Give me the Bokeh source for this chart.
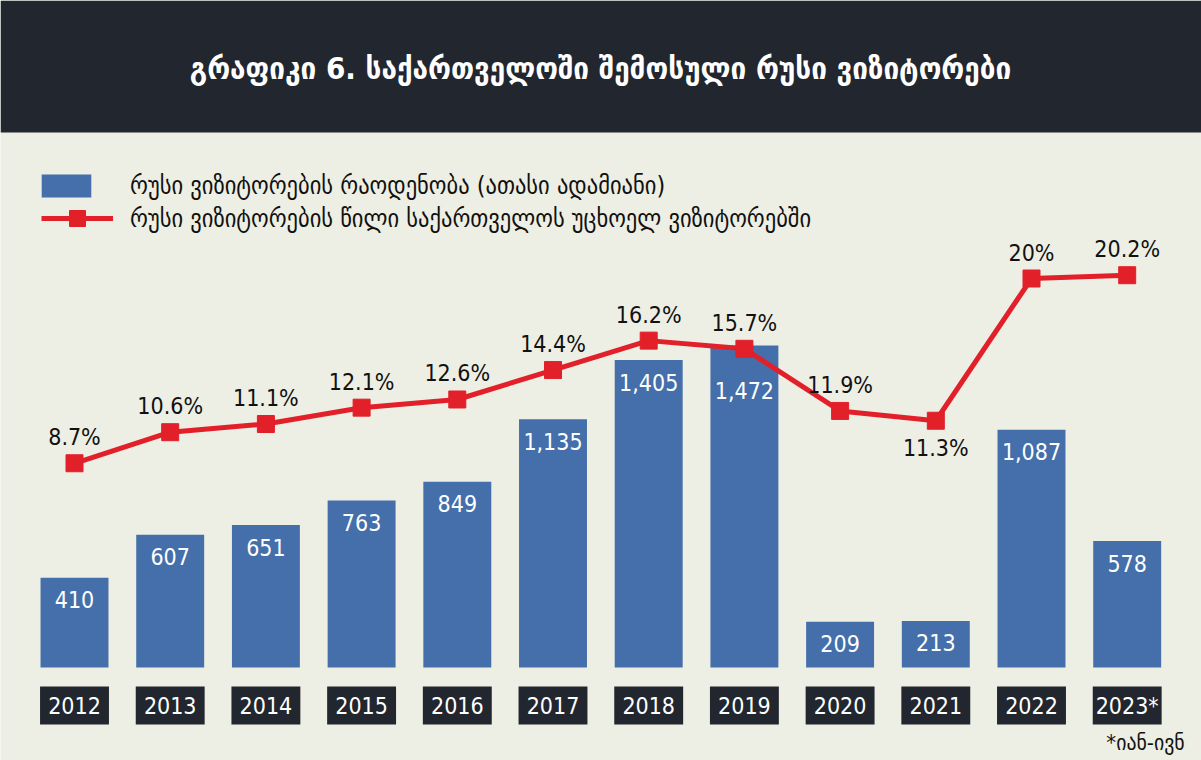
from bokeh.plotting import figure
from bokeh.models import (ColumnDataSource, Range1d, BoxAnnotation,
                          Label, Legend, LegendItem)
from bokeh.core.properties import value
from bokeh.embed import file_html
from bokeh.resources import INLINE

# ---------------- data ----------------
years = ["2012", "2013", "2014", "2015", "2016", "2017", "2018", "2019",
         "2020", "2021", "2022", "2023*"]
visitors = [410, 607, 651, 763, 849, 1135, 1405, 1472, 209, 213, 1087, 578]
share = [8.7, 10.6, 11.1, 12.1, 12.6, 14.4, 16.2, 15.7, 11.9, 11.3, 20.0, 20.2]
share_labels = ["8.7%", "10.6%", "11.1%", "12.1%", "12.6%", "14.4%", "16.2%",
                "15.7%", "11.9%", "11.3%", "20%", "20.2%"]
title_text = "გრაფიკი 6. საქართველოში შემოსული რუსი ვიზიტორები"
legend_bar = "რუსი ვიზიტორების რაოდენობა (ათასი ადამიანი)"
legend_line = "რუსი ვიზიტორების წილი საქართველოს უცხოელ ვიზიტორებში"
footnote = "*იან-ივნ"

# ---------------- styling ----------------
BG = "#eeefe4"
DARK = "#22262e"
BLUE = "#446fab"
RED = "#e2202a"
GEO_FONT = "'DejaVu Sans Condensed', 'DejaVu Sans', sans-serif"
NUM_FONT = "'DejaVu Sans Condensed', 'DejaVu Sans', sans-serif"

W, H = 1201, 760
# pixel geometry (page coords) -> data coords
STEP = 95.7          # px between category centres
X0 = -74 / STEP      # first category centre at px 74
BASE_PY = 667.0      # page y of bar baseline
KY = 0.2188          # px per thousand visitors
PCT0_PY = 605.0      # page y of 0 %
KP = 16.35           # px per percent


def xd(px):
    return px / STEP + X0


def yd(py):
    return (BASE_PY - py) / KY


def pd(py):
    return (PCT0_PY - py) / KP


xs = list(range(len(years)))
src = ColumnDataSource(dict(
    x=xs,
    year=years,
    visitors=visitors,
    vis_lbl=[f"{v:,}" for v in visitors],
    vis_off=[45 if y == "2019" else 22 for y in years],
    share=share,
    share_lbl=share_labels,
    share_off=[27 if y == "2021" else -26 for y in years],
))

p = figure(width=W, height=H, output_backend="svg", toolbar_location=None,
           x_range=Range1d(X0, X0 + W / STEP),
           y_range=Range1d(yd(H), yd(0)),
           min_border=0, min_border_left=0, min_border_right=0,
           min_border_top=0, min_border_bottom=0)
p.extra_y_ranges = {"pct": Range1d(pd(H), pd(0))}
p.axis.visible = False
p.grid.visible = False
p.outline_line_color = None
p.background_fill_color = BG
p.border_fill_color = BG

# header band
p.add_layout(BoxAnnotation(bottom=yd(132), fill_color=DARK, fill_alpha=1.0,
                           line_color=None, level="underlay"))
p.add_layout(Label(x=xd(600), y=yd(67), text=title_text, text_align="center",
                   text_baseline="middle", text_color="white",
                   text_font=GEO_FONT, text_font_size="31px",
                   text_font_style="bold"))

# bars
bars = p.vbar(x="x", top="visitors", bottom=0, width=0.71, source=src,
              fill_color=BLUE, line_color=None)
p.text(x="x", y="visitors", text="vis_lbl", source=src, y_offset="vis_off",
       text_align="center", text_baseline="middle", text_color="white",
       text_font=value(NUM_FONT), text_font_size="23px")

# year boxes (category labels)
p.vbar(x="x", top=yd(686), bottom=yd(724), width=0.72, source=src,
       fill_color=DARK, line_color=None)
p.text(x="x", y=yd(705), text="year", source=src, text_align="center",
       text_baseline="middle", text_color="white",
       text_font=value(NUM_FONT), text_font_size="23px")

# share line
ln = p.line(x="x", y="share", source=src, y_range_name="pct",
            line_color=RED, line_width=5)
sq = p.scatter(x="x", y="share", source=src, y_range_name="pct",
               marker="square", size=17, fill_color=RED, line_color=RED)
p.text(x="x", y="share", text="share_lbl", source=src, y_range_name="pct",
       y_offset="share_off", text_align="center", text_baseline="middle",
       text_color="#111111", text_font=value(NUM_FONT),
       text_font_size="23px")

# footnote
p.add_layout(Label(x=xd(1145), y=yd(742), text=footnote, text_align="center",
                   text_baseline="middle", text_color="#111111",
                   text_font=GEO_FONT, text_font_size="22px"))

# legends
common = dict(border_line_color=None, background_fill_alpha=0.0, padding=0,
              margin=0, label_text_font=GEO_FONT, label_text_font_size="25px",
              label_text_color="#111111")
leg1 = Legend(items=[LegendItem(label=legend_bar, renderers=[bars])],
              location=(35, H - 185 - 14.5), glyph_width=62, glyph_height=29,
              label_standoff=33, **common)
leg2 = Legend(items=[LegendItem(label=legend_line, renderers=[ln, sq])],
              location=(41, H - 218 - 20), glyph_width=72, glyph_height=40,
              label_standoff=17, **common)
p.add_layout(leg1)
p.add_layout(leg2)

open("out.html", "w").write(file_html(p, INLINE))
